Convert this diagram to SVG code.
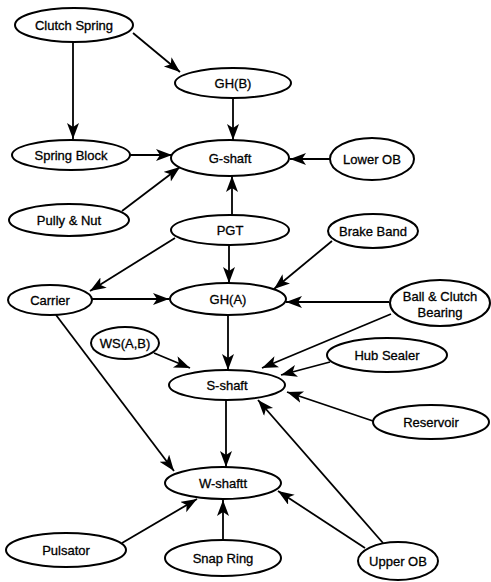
<svg xmlns="http://www.w3.org/2000/svg" width="491" height="582" viewBox="0 0 491 582">
<defs>
<marker id="ah" markerUnits="userSpaceOnUse" markerWidth="18" markerHeight="14" refX="16" refY="6" orient="auto">
<path d="M0,0 L16,6 L0,12 L4,6 Z" fill="#000"/>
</marker>
<style>
.n ellipse{fill:#fff;stroke:#000;stroke-width:2}
.n text{font-family:"Liberation Sans",Arial,sans-serif;font-size:13px;fill:#000;stroke:#000;stroke-width:0.3;text-anchor:middle;dominant-baseline:central}
#edges line{stroke:#000;stroke-width:1.8;marker-end:url(#ah)}
</style>
</defs>
<rect width="491" height="582" fill="#fff"/>
<g id="edges">
<line x1="133" y1="33" x2="180" y2="72"/>
<line x1="73" y1="42" x2="73" y2="139"/>
<line x1="233" y1="98" x2="233" y2="140"/>
<line x1="130" y1="155" x2="172" y2="155"/>
<line x1="331" y1="159" x2="290" y2="159"/>
<line x1="122" y1="211" x2="180" y2="167"/>
<line x1="232" y1="215" x2="232" y2="176"/>
<line x1="175" y1="238" x2="90" y2="291"/>
<line x1="229" y1="245" x2="229" y2="283"/>
<line x1="332" y1="241" x2="274" y2="289"/>
<line x1="92" y1="299" x2="169" y2="299"/>
<line x1="389" y1="302" x2="286" y2="302"/>
<line x1="228" y1="315" x2="228" y2="370"/>
<line x1="154" y1="353" x2="190" y2="368"/>
<line x1="391" y1="314" x2="262" y2="368"/>
<line x1="330" y1="362" x2="281" y2="375"/>
<line x1="373" y1="421" x2="287" y2="392"/>
<line x1="383" y1="543" x2="258" y2="400"/>
<line x1="365" y1="548" x2="278" y2="491"/>
<line x1="226" y1="400" x2="226" y2="467"/>
<line x1="56" y1="315" x2="174" y2="471"/>
<line x1="122" y1="543" x2="197" y2="499"/>
<line x1="223" y1="540" x2="223" y2="500"/>
</g>
<g id="clutch-spring" class="n"><ellipse cx="74" cy="25" rx="59" ry="17"/><text x="74" y="25">Clutch Spring</text></g>
<g id="gh-b" class="n"><ellipse cx="233" cy="83" rx="58" ry="15"/><text x="233" y="83">GH(B)</text></g>
<g id="spring-block" class="n"><ellipse cx="71" cy="155" rx="59" ry="15"/><text x="71" y="155">Spring Block</text></g>
<g id="g-shaft" class="n"><ellipse cx="230" cy="158" rx="59" ry="18"/><text x="230" y="158">G-shaft</text></g>
<g id="lower-ob" class="n"><ellipse cx="372" cy="159" rx="42" ry="21"/><text x="372" y="159">Lower OB</text></g>
<g id="pully-nut" class="n"><ellipse cx="69" cy="220" rx="60" ry="16"/><text x="69" y="220">Pully &amp; Nut</text></g>
<g id="pgt" class="n"><ellipse cx="230" cy="230" rx="59" ry="15"/><text x="230" y="230">PGT</text></g>
<g id="carrier" class="n"><ellipse cx="50" cy="300" rx="42" ry="15"/><text x="50" y="300">Carrier</text></g>
<g id="gh-a" class="n"><ellipse cx="228" cy="299" rx="58" ry="16"/><text x="228" y="299">GH(A)</text></g>
<g id="brake-band" class="n"><ellipse cx="373" cy="231" rx="45" ry="17"/><text x="373" y="231">Brake Band</text></g>
<g id="ball-clutch-bearing" class="n"><ellipse cx="440" cy="303" rx="50" ry="23"/><text x="440" y="296">Ball &amp; Clutch</text><text x="440" y="312">Bearing</text></g>
<g id="ws-ab" class="n"><ellipse cx="125" cy="343" rx="34" ry="16"/><text x="125" y="343">WS(A,B)</text></g>
<g id="s-shaft" class="n"><ellipse cx="227" cy="385" rx="58" ry="15"/><text x="227" y="385">S-shaft</text></g>
<g id="hub-sealer" class="n"><ellipse cx="387" cy="355" rx="60" ry="17"/><text x="387" y="355">Hub Sealer</text></g>
<g id="reservoir" class="n"><ellipse cx="431" cy="422" rx="58" ry="17"/><text x="431" y="422">Reservoir</text></g>
<g id="w-shaft" class="n"><ellipse cx="223" cy="483" rx="58" ry="16"/><text x="223" y="483">W-shaftt</text></g>
<g id="pulsator" class="n"><ellipse cx="66" cy="550" rx="60" ry="17"/><text x="66" y="550">Pulsator</text></g>
<g id="snap-ring" class="n"><ellipse cx="223" cy="558" rx="58" ry="18"/><text x="223" y="558">Snap Ring</text></g>
<g id="upper-ob" class="n"><ellipse cx="398" cy="561" rx="40" ry="19"/><text x="398" y="561">Upper OB</text></g>
</svg>
